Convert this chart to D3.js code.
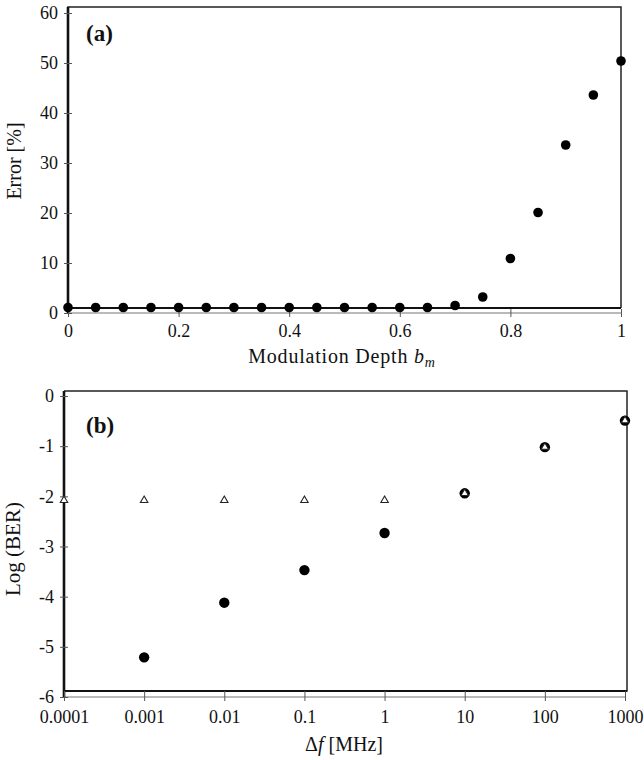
<!DOCTYPE html>
<html>
<head>
<meta charset="utf-8">
<script src="https://cdn.jsdelivr.net/npm/d3@7"></script>
<style>
  body { margin: 0; background: #fff; }
  text { font-family: "Liberation Serif", "DejaVu Serif", serif; fill: #111; }
</style>
</head>
<body>
<div id="chart"></div>
<script>
// panel (a) data: error vs modulation depth
var depth = [0, 0.05, 0.1, 0.15, 0.2, 0.25, 0.3, 0.35, 0.4, 0.45, 0.5,
  0.55, 0.6, 0.65, 0.7, 0.75, 0.8, 0.85, 0.9, 0.95, 1.0];
var errorPct = [1.1, 1.1, 1.1, 1.1, 1.1, 1.1, 1.1, 1.1, 1.1, 1.1, 1.1,
  1.1, 1.1, 1.1, 1.5, 3.2, 10.9, 20.1, 33.6, 43.6, 50.4];
var errTicks = [0, 10, 20, 30, 40, 50, 60];
var depthTicks = [0, 0.2, 0.4, 0.6, 0.8, 1];

// panel (b) data: log BER vs frequency offset
var freqCircle = [0.001, 0.01, 0.1, 1, 10, 100, 1000];
var berCircle = [-5.21, -4.12, -3.47, -2.73, -1.94, -1.02, -0.49];
var freqTri = [0.0001, 0.001, 0.01, 0.1, 1, 10, 100, 1000];
var berTri = [-2.08, -2.08, -2.08, -2.08, -2.08, -1.94, -1.02, -0.49];
var berTicks = [0, -1, -2, -3, -4, -5, -6];
var freqTicks = [0.0001, 0.001, 0.01, 0.1, 1, 10, 100, 1000];
var freqLabels = ["0.0001", "0.001", "0.01", "0.1", "1", "10", "100", "1000"];

var width = 644, height = 760;
var svg = d3.select("#chart").append("svg")
  .attr("width", width).attr("height", height);

// common axis styling
function styleAxis(g) {
  g.select(".domain").remove();
  g.selectAll("text").style("font-size", "18px")
    .style("font-family", "'Liberation Serif', serif").attr("fill", "#111");
  g.selectAll(".tick line").attr("stroke", "#555").attr("stroke-width", 1);
}

// ---------- panel (a) ----------
var xa = d3.scaleLinear().domain([0, 1]).range([68, 621]);
var ya = d3.scaleLinear().domain([0, 60]).range([313, 13]);
var pa = svg.append("g");

// bottom axis line (y = 0)
pa.append("line")
  .attr("x1", xa(0)).attr("x2", xa(1))
  .attr("y1", ya(0)).attr("y2", ya(0))
  .attr("stroke", "#777").attr("stroke-width", 1.2);

// frame
pa.append("path")
  .attr("d", "M" + xa(1) + "," + 308 + "V7H" + xa(0) + "V" + ya(0))
  .attr("fill", "none").attr("stroke", "#222").attr("stroke-width", 1.5);
pa.append("line")
  .attr("x1", xa(0)).attr("x2", xa(0)).attr("y1", 7).attr("y2", ya(0))
  .attr("stroke", "#111").attr("stroke-width", 2.6);
pa.append("line")
  .attr("x1", xa(0)).attr("x2", xa(1)).attr("y1", 308).attr("y2", 308)
  .attr("stroke", "#111").attr("stroke-width", 2);

var yAxisA = pa.append("g")
  .attr("transform", `translate(${xa(0)},0)`)
  .call(d3.axisLeft(ya).tickValues(errTicks).tickSize(4).tickPadding(6));
styleAxis(yAxisA);
yAxisA.selectAll(".tick line").attr("x1", -4).attr("x2", 4);

var xAxisA = pa.append("g")
  .attr("transform", `translate(0,${ya(0)})`)
  .call(d3.axisBottom(xa).tickValues(depthTicks).tickSize(4).tickPadding(7)
    .tickFormat(d3.format("")));
styleAxis(xAxisA);
xAxisA.selectAll(".tick line").attr("y1", -4).attr("y2", 4);

pa.selectAll("circle.pt")
  .data(depth).enter().append("circle")
  .attr("class", "pt")
  .attr("cx", function(d) { return xa(d); })
  .attr("cy", function(d, i) { return ya(errorPct[i]); })
  .attr("r", 4.8)
  .attr("fill", "#000");

pa.append("text")
  .attr("x", 86).attr("y", 41)
  .attr("font-size", "23px").attr("font-weight", "bold")
  .text("(a)");

pa.append("text")
  .attr("transform", "translate(21,161) rotate(-90)")
  .attr("text-anchor", "middle")
  .attr("font-size", "20px")
  .text("Error [%]");

var xtA = pa.append("text")
  .attr("x", 342).attr("y", 363)
  .attr("text-anchor", "middle")
  .attr("font-size", "20px")
  .attr("letter-spacing", "0.8px");
xtA.append("tspan").text("Modulation Depth ");
xtA.append("tspan").attr("font-style", "italic").text("b");
xtA.append("tspan").attr("font-style", "italic").attr("font-size", "14px")
  .attr("dy", 4).text("m");

// ---------- panel (b) ----------
var xb = d3.scaleLog().domain([1e-4, 1e3]).range([64, 625]);
var yb = d3.scaleLinear().domain([-6, 0]).range([697, 396]);
var pb = svg.append("g");

pb.append("line")
  .attr("x1", xb(1e-4)).attr("x2", xb(1e3))
  .attr("y1", yb(-6)).attr("y2", yb(-6))
  .attr("stroke", "#777").attr("stroke-width", 1.2);

pb.append("path")
  .attr("d", "M" + xb(1e-4) + "," + 691 + "H627V391H" + xb(1e-4))
  .attr("fill", "none").attr("stroke", "#222").attr("stroke-width", 1.5);
pb.append("line")
  .attr("x1", xb(1e-4)).attr("x2", xb(1e-4)).attr("y1", 391).attr("y2", yb(-6))
  .attr("stroke", "#111").attr("stroke-width", 2.6);
pb.append("line")
  .attr("x1", xb(1e-4)).attr("x2", 627).attr("y1", 691).attr("y2", 691)
  .attr("stroke", "#111").attr("stroke-width", 2);

var yAxisB = pb.append("g")
  .attr("transform", `translate(${xb(1e-4)},0)`)
  .call(d3.axisLeft(yb).tickValues(berTicks).tickSize(4).tickPadding(6)
    .tickFormat(function(d) { return d === 0 ? "0" : "-" + Math.abs(d); }));
styleAxis(yAxisB);
yAxisB.selectAll(".tick line").attr("x1", -4).attr("x2", 4);

var xAxisB = pb.append("g")
  .attr("transform", `translate(0,${yb(-6)})`)
  .call(d3.axisBottom(xb).tickValues(freqTicks).tickSize(4).tickPadding(9)
    .tickFormat(function(d, i) { return freqLabels[i]; }));
styleAxis(xAxisB);
xAxisB.selectAll(".tick line").attr("y1", -6).attr("y2", 4);

pb.selectAll("circle.pt")
  .data(freqCircle).enter().append("circle")
  .attr("class", "pt")
  .attr("cx", function(d) { return xb(d); })
  .attr("cy", function(d, i) { return yb(berCircle[i]); })
  .attr("r", 5.2)
  .attr("fill", "#000");

var tri = d3.symbol().type(d3.symbolTriangle).size(24);
pb.selectAll("path.tri")
  .data(freqTri).enter().append("path")
  .attr("class", "tri")
  .attr("d", tri)
  .attr("transform", function(d, i) {
    return `translate(${xb(d)},${yb(berTri[i])})`;
  })
  .attr("fill", "#fff")
  .attr("stroke", "#222")
  .attr("stroke-width", 1.1);

pb.append("text")
  .attr("x", 86).attr("y", 433)
  .attr("font-size", "23px").attr("font-weight", "bold")
  .text("(b)");

pb.append("text")
  .attr("transform", "translate(20,549) rotate(-90)")
  .attr("text-anchor", "middle")
  .attr("font-size", "21px")
  .text("Log (BER)");

var xtB = pb.append("text")
  .attr("x", 344).attr("y", 751)
  .attr("text-anchor", "middle")
  .attr("font-size", "20px");
xtB.append("tspan").text("Δ");
xtB.append("tspan").attr("font-style", "italic").text("f");
xtB.append("tspan").text(" [MHz]");
</script>
</body>
</html>
